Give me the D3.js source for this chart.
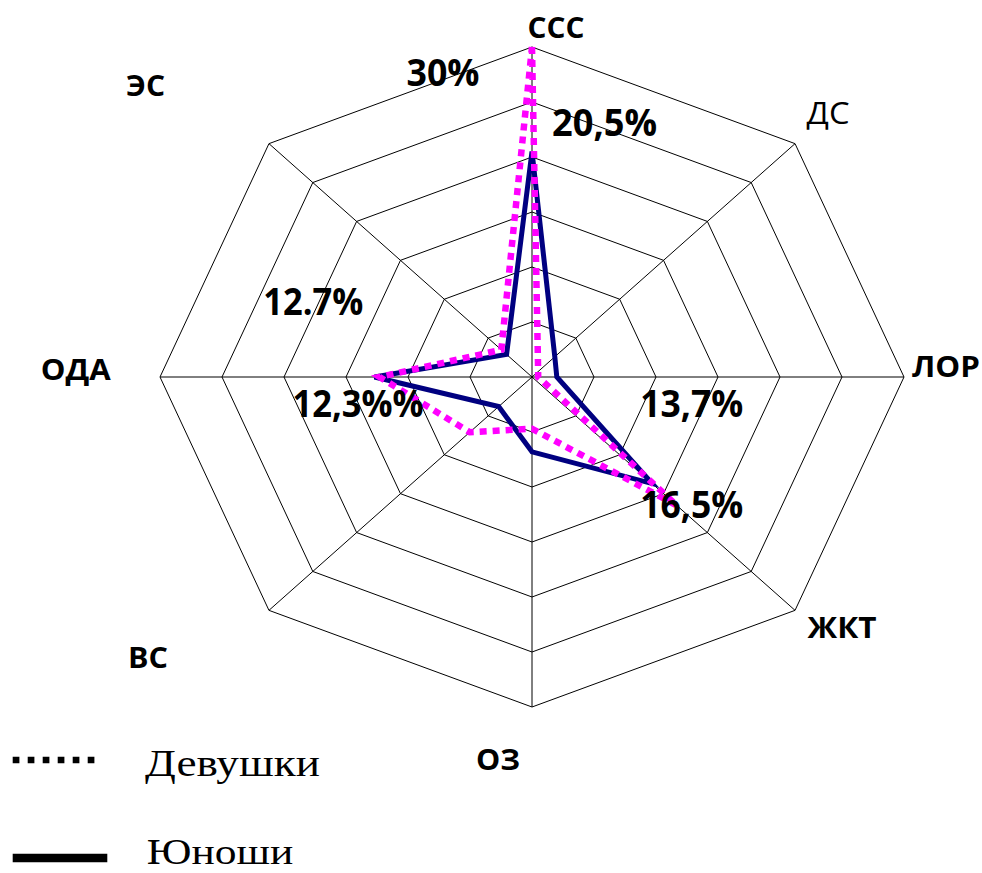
<!DOCTYPE html>
<html>
<head>
<meta charset="utf-8">
<script src="https://cdn.jsdelivr.net/npm/d3@7"></script>
<style>
  html, body { margin: 0; padding: 0; background: #fff; }
  svg { display: block; }
</style>
</head>
<body>
<svg id="chart" width="982" height="873"></svg>
<script>
// ---------- DATA ----------
const categories = ["ССС", "ДС", "ЛОР", "ЖКТ", "ОЗ", "ВС", "ОДА", "ЭС"];
const girls = [30, 0.7, 0.5, 16.5, 4.7, 7.1, 12.3, 3.5];   // Девушки
const boys  = [20.5, 2.6, 2.0, 13.7, 6.8, 3.8, 12.7, 2.9]; // Юноши
const gridTicks = [5, 10, 15, 20, 25, 30];
const seriesNames = ["Девушки", "Юноши"];
const valueLabels = ["30%", "20,5%", "12.7%", "12,3%%", "13,7%", "16,5%"];

// ---------- LAYOUT ----------
const W = 982, H = 873;
const cx = 532, cy = 377, rx = 372, ry = 330;
// label positions: [centerX, baseline, targetWidth]
const catLabelLayout = [
  [556, 38, 57], [828, 124, 43], [946, 377, 68], [842, 638, 69],
  [498, 770, 44], [148, 668, 40], [75.7, 380, 70], [145.5, 96, 39]
];
const catLabelBold = [true, false, true, true, true, true, true, true];
const valueLabelLayout = [
  [443, 86, 73], [604.5, 136, 105], [313.3, 315, 100],
  [358, 416.5, 131], [691.7, 416.7, 103], [691.7, 518, 103]
];

const svg = d3.select("#chart");
svg.append("rect").attr("width", W).attr("height", H).attr("fill", "#fff");

const r = d3.scaleLinear().domain([0, 30]).range([0, 1]);
const angle = d3.scalePoint().domain(categories.map((d, i) => i)).range([0, 2 * Math.PI * 7 / 8]);
const px = (i, v) => cx + rx * r(v) * Math.sin(angle(i));
const py = (i, v) => cy - ry * r(v) * Math.cos(angle(i));

const g = svg.append("g");

// grid rings
const ringLine = d3.line().x(d => d[0]).y(d => d[1]).curve(d3.curveLinearClosed);
gridTicks.forEach(t => {
  g.append("path")
    .attr("d", ringLine(categories.map((c, i) => [px(i, t), py(i, t)])))
    .attr("fill", "none").attr("stroke", "#000").attr("stroke-width", 1);
});
// spokes
categories.forEach((c, i) => {
  g.append("line")
    .attr("x1", cx).attr("y1", cy)
    .attr("x2", px(i, 30)).attr("y2", py(i, 30))
    .attr("stroke", "#000").attr("stroke-width", 1);
});

// series
const seriesLine = d3.line()
  .x((d, i) => px(i, d)).y((d, i) => py(i, d))
  .curve(d3.curveLinearClosed);

g.append("path").attr("d", seriesLine(boys))
  .attr("fill", "none").attr("stroke", "#000080").attr("stroke-width", 5)
  .attr("stroke-linejoin", "miter");

g.append("path").attr("d", seriesLine(girls))
  .attr("fill", "none").attr("stroke", "#FF00FF").attr("stroke-width", 6.5)
  .attr("stroke-dasharray", "7,6").attr("stroke-linecap", "butt");

// helper to place text fitted to width
function fitText(sel, text, x, y, width, opts) {
  const t = sel.append("text")
    .attr("text-anchor", "middle")
    .attr("font-family", opts.family)
    .attr("font-size", opts.size)
    .attr("font-weight", opts.weight || "normal")
    .attr("fill", "#000")
    .text(text);
  const w = t.node().getComputedTextLength();
  const s = w > 0 ? width / w : 1;
  t.attr("transform", `translate(${x},${y}) scale(${s},1)`);
  return t;
}

// category labels
categories.forEach((c, i) => {
  const [x, y, w] = catLabelLayout[i];
  fitText(svg, c, x, y, w, {
    family: "'Open Sans', 'Noto Sans', sans-serif",
    size: catLabelBold[i] ? 29 : 31,
    weight: catLabelBold[i] ? "bold" : "normal"
  });
});

// value labels
valueLabels.forEach((txt, i) => {
  const [x, y, w] = valueLabelLayout[i];
  fitText(svg, txt, x, y, w, {
    family: "'Open Sans', 'Noto Sans', sans-serif",
    size: 37, weight: "bold"
  });
});

// legend
const leg = svg.append("g");
leg.append("line").attr("x1", 12.7).attr("x2", 100).attr("y1", 760).attr("y2", 760)
  .attr("stroke", "#000").attr("stroke-width", 6.7).attr("stroke-dasharray", "6.7,8.3");
leg.append("line").attr("x1", 12.7).attr("x2", 107.3).attr("y1", 858).attr("y2", 858)
  .attr("stroke", "#000").attr("stroke-width", 8.5);
fitText(leg, seriesNames[0], 232.5, 776, 175,
  { family: "'Liberation Serif', 'DejaVu Serif', serif", size: 37 });
fitText(leg, seriesNames[1], 220, 864, 146.7,
  { family: "'Liberation Serif', 'DejaVu Serif', serif", size: 35 });
</script>
</body>
</html>
